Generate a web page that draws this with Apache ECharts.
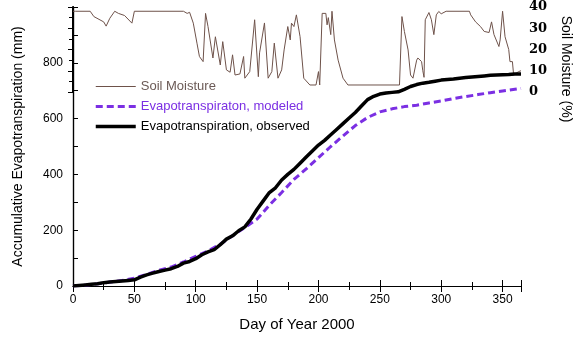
<!DOCTYPE html>
<html>
<head>
<meta charset="utf-8">
<script src="https://cdn.jsdelivr.net/npm/echarts@6/dist/echarts.min.js"></script>
<style>
  html, body { margin: 0; padding: 0; background: #fff; }
  #chart { width: 576px; height: 337px; }
</style>
</head>
<body>
<div id="chart"></div>
<script>
// observed cumulative ET (mm)
let obsDays = [0, 5, 10, 15, 20, 25, 30, 35, 40, 45, 50, 55, 60, 65, 70, 75, 80, 85, 90, 95, 100, 105, 110, 115, 120, 125, 130, 135, 140, 145, 150, 155, 160, 165, 170, 175, 180, 185, 190, 195, 200, 205, 210, 215, 220, 225, 230, 235, 240, 245, 250, 255, 260, 265, 270, 275, 280, 285, 290, 295, 300, 305, 310, 315, 320, 325, 330, 335, 340, 345, 350, 355, 360, 365];
let obsET = [0, 2, 4, 6, 8, 12, 14, 16, 18, 20, 22, 32, 40, 46, 52, 57, 62, 70, 82, 88, 98, 112, 122, 130, 148, 168, 180, 198, 212, 240, 275, 305, 335, 352, 380, 400, 418, 440, 462, 484, 505, 522, 542, 562, 582, 602, 622, 645, 668, 680, 688, 692, 694, 696, 705, 715, 722, 727, 730, 734, 738, 740, 742, 745, 747, 749, 751, 753, 755, 756, 757, 758, 760, 760];
// modeled cumulative ET (mm)
let modDays = [0, 10, 20, 30, 40, 50, 60, 70, 80, 90, 100, 110, 120, 130, 140, 150, 160, 170, 180, 190, 200, 210, 220, 230, 240, 250, 260, 270, 280, 290, 300, 310, 320, 330, 340, 350, 360, 365];
let modET = [0, 3, 8, 14, 20, 28, 42, 56, 68, 86, 106, 126, 150, 180, 210, 240, 290, 335, 382, 420, 460, 500, 538, 575, 604, 624, 635, 643, 648, 656, 663, 672, 679, 686, 693, 699, 705, 708];
// soil moisture (%)
let smDays = [0, 2, 14, 17, 25, 27, 30, 34, 37, 42, 48, 50, 90, 93, 95, 98, 101, 103, 106, 108, 110, 114, 116, 120, 122, 125, 128, 130, 132, 136, 139, 140, 144, 148, 151, 152, 156, 159, 162, 164, 167, 170, 172, 175, 177, 178, 180, 182, 185, 188, 193, 198, 200, 201, 203, 206, 207, 208, 210, 211, 213, 216, 220, 224, 266, 268, 270, 273, 275, 277, 280, 281, 284, 285, 286, 287, 290, 292, 294, 296, 298, 300, 304, 323, 324, 328, 332, 335, 339, 341, 343, 347, 348, 350, 352, 355, 356, 358, 359, 363, 365];
let smVals = [38, 38, 38, 35.5, 33, 31, 34.7, 38, 37, 36, 32.4, 38, 38, 37, 37.5, 32.4, 23, 16.7, 14.3, 37, 30.8, 16, 26, 12.7, 23.7, 10.4, 9.3, 17.5, 8, 8.5, 16.7, 6.5, 9.6, 34, 7.2, 18.4, 32.5, 6.5, 9.6, 23, 6.5, 10.4, 19.8, 30.8, 24.5, 32.4, 30.8, 36.3, 26, 6.5, 3.3, 3.3, 9.6, 3.3, 37, 37, 31.6, 35, 27, 38, 24.5, 15, 6.5, 3.3, 3.3, 35.5, 28.5, 19.8, 8, 6.5, 15, 16, 14.3, 10, 6.9, 34, 37.4, 34, 27, 36.3, 37.9, 36.8, 38, 38, 36.3, 33, 30.8, 28.5, 28, 33, 27, 21.4, 24.5, 38, 26, 20, 14.3, 14.3, 8, 9.6, 10];

let purple = "#7b2fe3";
let brown = "#6e524a";
let font = "Liberation Sans";

function pairs(xs, ys) {
  return xs.map((x, i) => [x, ys[i]]);
}

let chart = echarts.init(document.getElementById("chart"));
let option = {
  animation: false,
  grid: [
    { left: 73, right: 55, top: 7, bottom: 51 },
    { left: 73, right: 55, top: 7, height: 85 }
  ],
  legend: {
    orient: "vertical",
    left: 89,
    top: 75,
    itemWidth: 40,
    itemHeight: 14,
    itemGap: 7,
    selectedMode: false,
    itemStyle: { opacity: 0 },
    textStyle: { fontFamily: font, fontSize: 13 },
    data: [
      { name: "Soil Moisture", textStyle: { color: "#6b5a56" }, lineStyle: { width: 1 } },
      { name: "Evapotranspiraton, modeled", textStyle: { color: purple }, lineStyle: { width: 3, type: [7, 4] } },
      { name: "Evapotranspiration, observed", textStyle: { color: "#000" }, lineStyle: { width: 3.5 } }
    ]
  },
  xAxis: [
    {
      gridIndex: 0, type: "value", min: 0, max: 365, interval: 50, position: "bottom",
      axisLine: { lineStyle: { color: "#000", width: 1.2 } },
      axisTick: { inside: true, length: 6, lineStyle: { color: "#000" } },
      minorTick: { show: true, splitNumber: 2, length: 4, lineStyle: { color: "#000" } },
      splitLine: { show: false },
      axisLabel: { color: "#000", fontFamily: font, fontSize: 12, margin: 8,
        formatter: v => (v % 50 === 0 ? v : "") },
      name: "Day of Year 2000", nameLocation: "middle", nameGap: 31,
      nameTextStyle: { color: "#000", fontFamily: font, fontSize: 15 }
    },
    {
      gridIndex: 0, type: "value", min: 0, max: 365, interval: 50, position: "top",
      axisLine: { lineStyle: { color: "#000", width: 1.2 } },
      axisTick: { inside: true, length: 6, lineStyle: { color: "#000" } },
      minorTick: { show: true, splitNumber: 2, length: 4, lineStyle: { color: "#000" } },
      splitLine: { show: false },
      axisLabel: { show: false }
    },
    { gridIndex: 1, type: "value", min: 0, max: 365, show: false }
  ],
  yAxis: [
    {
      gridIndex: 0, type: "value", min: 0, max: 1000, interval: 100, position: "left",
      axisLine: { show: true, lineStyle: { color: "#000", width: 1.2 } },
      axisTick: { inside: true, length: 5, lineStyle: { color: "#000" } },
      splitLine: { show: false },
      axisLabel: { color: "#000", fontFamily: font, fontSize: 12, margin: 10,
        formatter: v => (v % 200 === 0 && v < 1000 ? v : "") },
      name: "Accumulative Evapotranspiration (mm)", nameLocation: "middle", nameGap: 48,
      nameTextStyle: { color: "#000", fontFamily: font, fontSize: 14 }
    },
    {
      gridIndex: 0, type: "value", min: 0, max: 1000, position: "right",
      axisLine: { show: true, lineStyle: { color: "#000", width: 1.2 } },
      axisTick: { show: false }, axisLabel: { show: false }, splitLine: { show: false }
    },
    {
      gridIndex: 1, type: "value", min: 0, max: 40, interval: 10, position: "right",
      axisLine: { show: true, lineStyle: { color: "#000", width: 2 } },
      axisTick: { inside: true, length: 5, lineStyle: { color: "#000" } },
      minorTick: { show: true, splitNumber: 2, length: 4, lineStyle: { color: "#000" } },
      splitLine: { show: false },
      axisLabel: { color: "#000", fontFamily: "DejaVu Serif", fontWeight: "bold", fontSize: 13, margin: 8 }
    }
  ],
  graphic: [
    {
      type: "text", x: 566, y: 69, rotation: -Math.PI / 2,
      style: { text: "Soil Moisture (%)", fill: "#000", font: "14px Liberation Sans", align: "center", verticalAlign: "middle" }
    }
  ],
  series: [
    {
      name: "Soil Moisture", type: "line", xAxisIndex: 2, yAxisIndex: 2,
      data: pairs(smDays, smVals), symbol: "none",
      lineStyle: { color: brown, width: 1 }, itemStyle: { color: brown }
    },
    {
      name: "Evapotranspiraton, modeled", type: "line", xAxisIndex: 0, yAxisIndex: 0,
      data: pairs(modDays, modET), symbol: "none",
      lineStyle: { color: purple, width: 3, type: [7, 4] }, itemStyle: { color: purple }
    },
    {
      name: "Evapotranspiration, observed", type: "line", xAxisIndex: 0, yAxisIndex: 0,
      data: pairs(obsDays, obsET), symbol: "none",
      lineStyle: { color: "#000", width: 3.5 }, itemStyle: { color: "#000" }
    }
  ]
};
chart.setOption(option);
</script>
</body>
</html>
